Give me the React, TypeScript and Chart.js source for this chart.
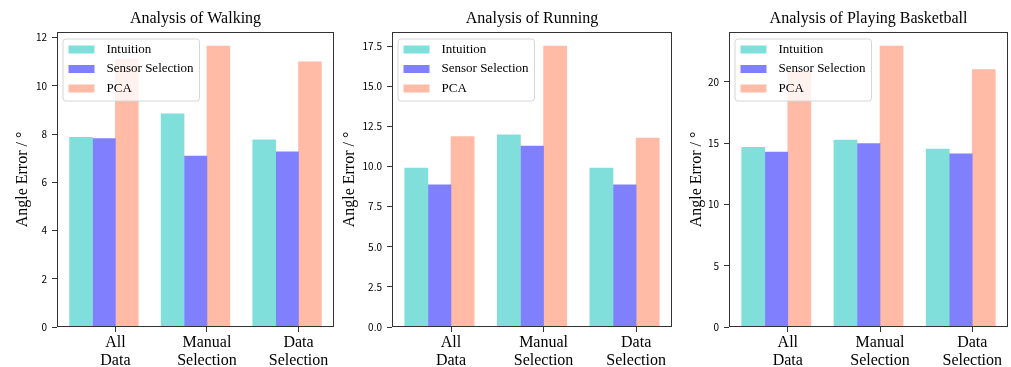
import React, { useEffect, useRef } from 'react';
import { Chart, registerables } from 'chart.js';

Chart.register(...registerables);

// ---------- data ----------
const seriesNames = ['Intuition', 'Sensor Selection', 'PCA'];
const xTickLabels = [['All', 'Data'], ['Manual', 'Selection'], ['Data', 'Selection']];
const groupPositions = [0, 1, 2];
const panelTitles = ['Analysis of Walking', 'Analysis of Running', 'Analysis of Playing Basketball'];
const yAxisLabel = 'Angle Error / °';

const walkingIntuition = [7.86, 8.84, 7.76];
const walkingSensor = [7.81, 7.09, 7.26];
const walkingPCA = [11.1, 11.65, 11.0];

const runningIntuition = [9.9, 11.97, 9.9];
const runningSensor = [8.85, 11.27, 8.85];
const runningPCA = [11.86, 17.5, 11.77];

const basketballIntuition = [14.66, 15.25, 14.52];
const basketballSensor = [14.27, 14.98, 14.14];
const basketballPCA = [20.85, 22.93, 21.0];

const yTickSteps = [2, 2.5, 5];
const yTickDecimals = [0, 1, 0];

// ---------- styles / layout ----------
const seriesColors = ['#80dfdb', '#8080ff', '#ffbba5'];
const BAR_WIDTH = 0.25;
const SERIF = '"Liberation Serif", "Times New Roman", serif';
const SANS = '"Noto Sans CJK SC", "DejaVu Sans", sans-serif';
const H = 367;

const panelLayouts = [
  { left: 0, width: 338, axisWidth: 57, rightPad: 4, yTitlePad: 13 },
  { left: 338, width: 340, axisWidth: 54, rightPad: 6, yTitlePad: 1.8 },
  { left: 678, width: 333, axisWidth: 51, rightPad: 3, yTitlePad: 8.8 },
];

const panelSeries = [
  [walkingIntuition, walkingSensor, walkingPCA],
  [runningIntuition, runningSensor, runningPCA],
  [basketballIntuition, basketballSensor, basketballPCA],
];

const framePlugin = {
  id: 'frame',
  afterDraw(chart: any) {
    const { ctx, chartArea } = chart;
    ctx.save();
    ctx.strokeStyle = '#333';
    ctx.lineWidth = 1;
    const l = Math.round(chartArea.left) + 0.5;
    const t = Math.round(chartArea.top) + 0.5;
    const r = Math.round(chartArea.right) - 0.5;
    const b = Math.round(chartArea.bottom) - 0.5;
    ctx.strokeRect(l, t, r - l, b - t);
    ctx.restore();
  },
};

const boxLegendPlugin = {
  id: 'boxLegend',
  afterDraw(chart: any) {
    const { ctx, chartArea } = chart;
    const ds = chart.data.datasets;
    ctx.save();
    ctx.font = `13px ${SERIF}`;
    let maxW = 0;
    ds.forEach((d: any) => {
      maxW = Math.max(maxW, ctx.measureText(d.label).width);
    });
    const x0 = chartArea.left + 6;
    const y0 = chartArea.top + 7;
    const patchW = 26;
    const patchH = 8;
    const w = 5.5 + patchW + 12 + maxW + 6;
    const h = 62;
    const rr = 3;
    ctx.beginPath();
    ctx.moveTo(x0 + rr, y0);
    ctx.lineTo(x0 + w - rr, y0);
    ctx.quadraticCurveTo(x0 + w, y0, x0 + w, y0 + rr);
    ctx.lineTo(x0 + w, y0 + h - rr);
    ctx.quadraticCurveTo(x0 + w, y0 + h, x0 + w - rr, y0 + h);
    ctx.lineTo(x0 + rr, y0 + h);
    ctx.quadraticCurveTo(x0, y0 + h, x0, y0 + h - rr);
    ctx.lineTo(x0, y0 + rr);
    ctx.quadraticCurveTo(x0, y0, x0 + rr, y0);
    ctx.closePath();
    ctx.fillStyle = 'rgba(255,255,255,0.8)';
    ctx.fill();
    ctx.strokeStyle = '#d6d6d6';
    ctx.lineWidth = 1;
    ctx.stroke();
    ds.forEach((d: any, i: number) => {
      const cy = y0 + 10.5 + i * 19.5;
      ctx.fillStyle = d.backgroundColor;
      ctx.fillRect(x0 + 5.5, cy - patchH / 2, patchW, patchH);
      ctx.fillStyle = '#000';
      ctx.textBaseline = 'middle';
      ctx.textAlign = 'left';
      ctx.fillText(d.label, x0 + 5.5 + patchW + 12, cy);
    });
    ctx.restore();
  },
};

function Panel({ index }: { index: number }) {
  const ref = useRef<HTMLCanvasElement>(null);
  const layout = panelLayouts[index];

  useEffect(() => {
    const series = panelSeries[index];
    const maxVal = Math.max(...series.flat());
    const nGroups = groupPositions.length;
    const dataMin = groupPositions[0] - 1.5 * BAR_WIDTH;
    const dataMax = groupPositions[nGroups - 1] + 1.5 * BAR_WIDTH;
    const margin = 0.05 * (dataMax - dataMin);
    const decimals = yTickDecimals[index];

    const chart = new Chart(ref.current as HTMLCanvasElement, {
      type: 'bar',
      data: {
        datasets: series.map((vals, s) => ({
          label: seriesNames[s],
          data: groupPositions.map((g, i) => ({ x: g + (s - 1) * BAR_WIDTH, y: vals[i] })),
          backgroundColor: seriesColors[s],
          borderWidth: 0,
          grouped: false,
          categoryPercentage: 1,
          barPercentage: 1,
        })),
      },
      options: {
        animation: false,
        responsive: false,
        devicePixelRatio: 1,
        events: [],
        layout: { padding: { left: 0, right: layout.rightPad, top: 0, bottom: 0 } },
        plugins: {
          legend: { display: false },
          tooltip: { enabled: false },
          title: {
            display: true,
            text: panelTitles[index],
            fullSize: false,
            color: '#000',
            font: { family: SERIF, size: 16, weight: 'normal', lineHeight: 1.2 },
            padding: { top: 9.4, bottom: 3.4 },
          },
        },
        scales: {
          x: {
            type: 'linear',
            offset: false,
            min: dataMin - margin,
            max: dataMax + margin,
            afterBuildTicks: (scale: any) => {
              scale.ticks = groupPositions.map((g) => ({ value: g + BAR_WIDTH / 2 }));
            },
            afterFit: (scale: any) => {
              scale.height = 40;
            },
            border: { display: false },
            grid: {
              display: true,
              drawOnChartArea: false,
              drawTicks: true,
              tickLength: 5,
              tickColor: '#333',
              offset: false,
            },
            ticks: {
              autoSkip: false,
              maxRotation: 0,
              minRotation: 0,
              padding: 2,
              color: '#000',
              font: { family: SERIF, size: 16, lineHeight: 1.125 },
              callback: (_v: any, i: number) => xTickLabels[i],
            },
          },
          y: {
            type: 'linear',
            min: 0,
            max: maxVal * 1.05,
            afterFit: (scale: any) => {
              scale.width = layout.axisWidth;
            },
            border: { display: false },
            grid: {
              display: true,
              drawOnChartArea: false,
              drawTicks: true,
              tickLength: 5,
              tickColor: '#333',
            },
            title: {
              display: true,
              text: yAxisLabel,
              color: '#000',
              font: { family: SERIF, size: 16, lineHeight: 1.2 },
              padding: { top: layout.yTitlePad, bottom: 0 },
            },
            ticks: {
              stepSize: yTickSteps[index],
              includeBounds: false,
              padding: 5,
              color: '#000',
              font: { family: SANS, size: 10 },
              callback: (v: any) => Number(v).toFixed(decimals),
            },
          },
        },
      } as any,
      plugins: [framePlugin, boxLegendPlugin],
    });
    return () => chart.destroy();
  }, [index]);

  return (
    <canvas
      ref={ref}
      width={layout.width}
      height={H}
      style={{ position: 'absolute', left: layout.left, top: 0, width: layout.width, height: H }}
    />
  );
}

export default function App() {
  return (
    <div style={{ position: 'fixed', left: 0, top: 0, width: 1011, height: H, background: '#fff' }}>
      {panelTitles.map((_, i) => (
        <Panel key={i} index={i} />
      ))}
    </div>
  );
}
